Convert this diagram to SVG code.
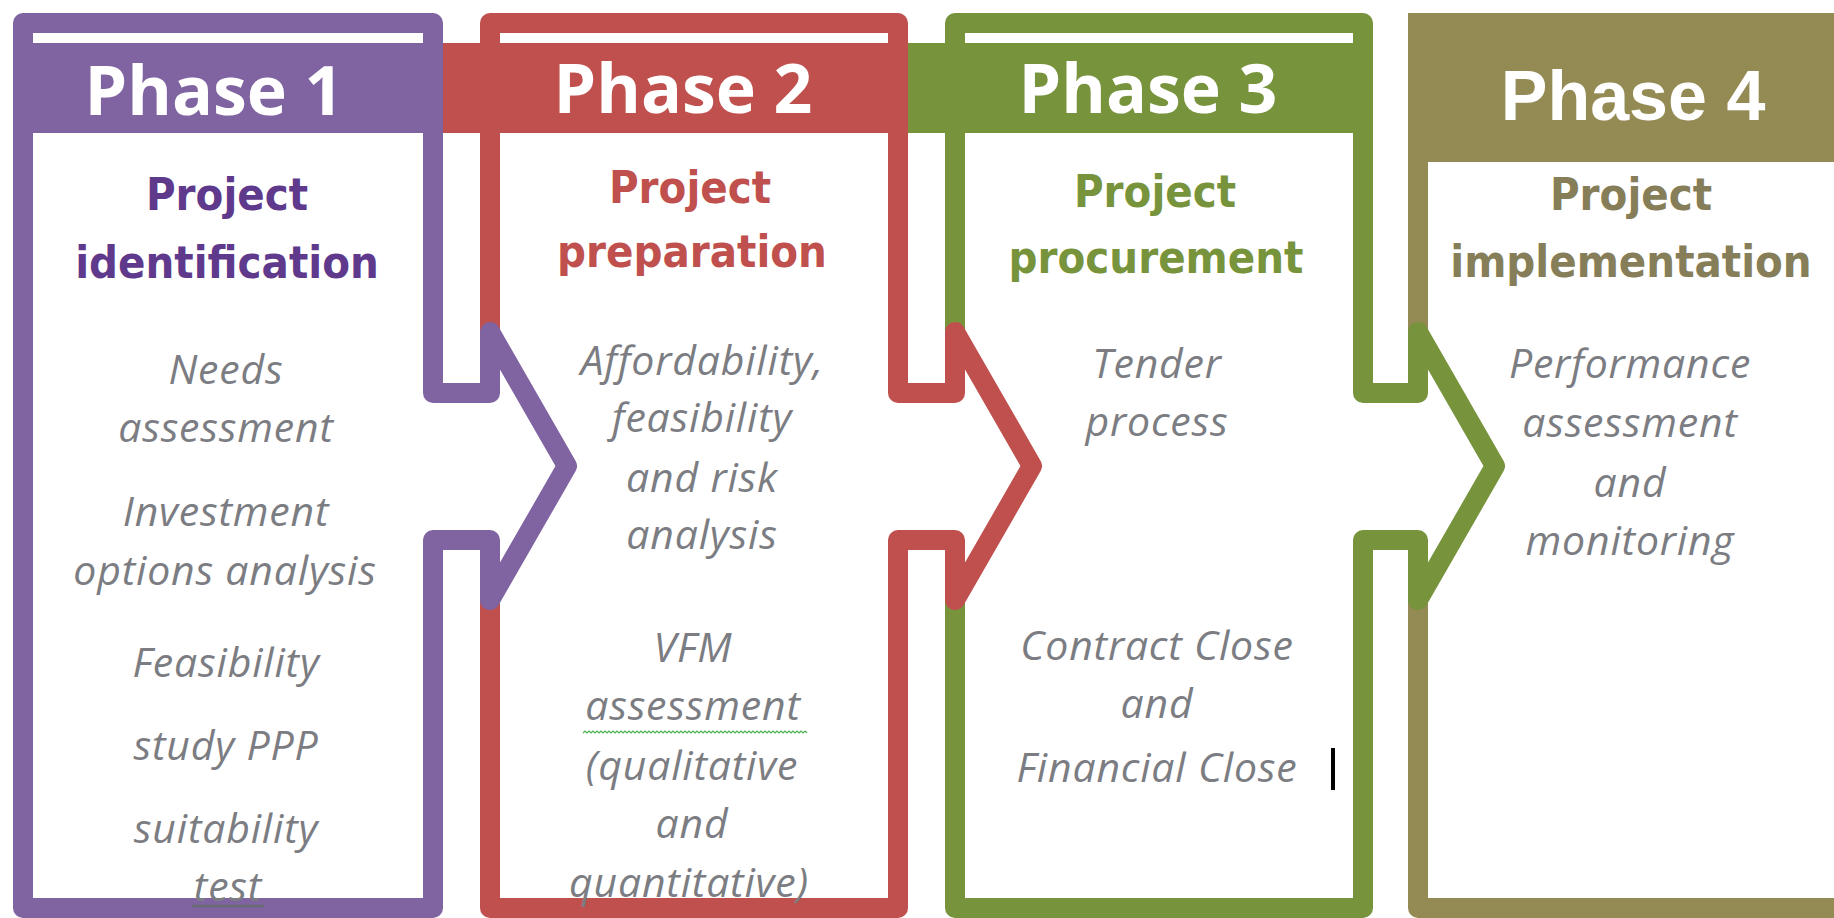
<svg xmlns="http://www.w3.org/2000/svg" width="1834" height="918" viewBox="0 0 1834 918">
<style>
.frame{fill:#ffffff;stroke-width:20;stroke-linejoin:round}
.hd{font-family:'Open Sans','DejaVu Sans',sans-serif;font-weight:700;font-size:68px;fill:#ffffff;text-anchor:middle}
.hd4{font-family:'Liberation Sans',Arial,sans-serif;font-weight:700;font-size:70px;fill:#ffffff;text-anchor:middle}
.ti{font-family:'DejaVu Sans Condensed','DejaVu Sans',sans-serif;font-stretch:condensed;font-weight:700;font-size:45px;text-anchor:middle}
.bd{font-family:'Open Sans','Noto Sans',sans-serif;font-style:italic;font-size:41px;letter-spacing:0.8px;fill:#7b7d82;text-anchor:middle}
.arw{fill:none;stroke-width:20;stroke-linejoin:round}
.hole{fill:#ffffff;stroke:none}
.sq{fill:none;stroke-width:1.2}
.p1{stroke:#8064a2}.p2{stroke:#c0504d}.p3{stroke:#77933c}.p4{stroke:#948a54}
</style>
<rect width="1834" height="918" fill="#ffffff"/>

<g id="phase4">
<path class="frame p4" d="M1418,23 V908 H1860 V23 Z"/>
<rect x="1408" y="13" width="440" height="149" fill="#948a54"/>
<text class="hd4" x="1633" y="120">Phase 4</text>
<text class="ti" fill="#857e58" x="1631" y="210">Project</text>
<text class="ti" fill="#857e58" x="1631" y="277">implementation</text>
<text class="bd" x="1630" y="378">Performance</text>
<text class="bd" x="1630" y="437">assessment</text>
<text class="bd" x="1630" y="497">and</text>
<text class="bd" x="1630" y="555">monitoring</text>
</g>

<g id="phase3">
<path class="frame p3" d="M955,23 H1363 V908 H955 Z"/>
<rect x="908" y="43" width="465" height="90" fill="#77933c"/>
<text class="hd" x="1148" y="113">Phase 3</text>
<text class="ti" fill="#77933c" x="1155" y="207">Project</text>
<text class="ti" fill="#77933c" x="1156" y="273">procurement</text>
<text class="bd" x="1157" y="378">Tender</text>
<text class="bd" x="1157" y="436">process</text>
<text class="bd" x="1157" y="660">Contract Close</text>
<text class="bd" x="1157" y="718">and</text>
<text class="bd" x="1157" y="782">Financial Close</text>
<rect x="1331" y="748" width="4" height="42" fill="#000000"/>
</g>

<g id="phase2">
<path class="frame p2" d="M490,23 H898 V908 H490 Z"/>
<rect x="443" y="43" width="465" height="90" fill="#c0504d"/>
<text class="hd" x="683" y="113">Phase 2</text>
<text class="ti" fill="#c0504d" x="690" y="203">Project</text>
<text class="ti" fill="#c0504d" x="692" y="267">preparation</text>
<text class="bd" x="702" y="375">Affordability,</text>
<text class="bd" x="702" y="432">feasibility</text>
<text class="bd" x="702" y="492">and risk</text>
<text class="bd" x="702" y="549">analysis</text>
<text class="bd" x="693" y="662">VFM</text>
<text class="bd" x="693" y="720">assessment</text>
<path class="sq" stroke="#4caf50" d="M583,733 l2,-2 l2,2 l2,-2 l2,2 l2,-2 l2,2 l2,-2 l2,2 l2,-2 l2,2 l2,-2 l2,2 l2,-2 l2,2 l2,-2 l2,2 l2,-2 l2,2 l2,-2 l2,2 l2,-2 l2,2 l2,-2 l2,2 l2,-2 l2,2 l2,-2 l2,2 l2,-2 l2,2 l2,-2 l2,2 l2,-2 l2,2 l2,-2 l2,2 l2,-2 l2,2 l2,-2 l2,2 l2,-2 l2,2 l2,-2 l2,2 l2,-2 l2,2 l2,-2 l2,2 l2,-2 l2,2 l2,-2 l2,2 l2,-2 l2,2 l2,-2 l2,2 l2,-2 l2,2 l2,-2 l2,2 l2,-2 l2,2 l2,-2 l2,2 l2,-2 l2,2 l2,-2 l2,2 l2,-2 l2,2 l2,-2 l2,2 l2,-2 l2,2 l2,-2 l2,2 l2,-2 l2,2 l2,-2 l2,2 l2,-2 l2,2 l2,-2 l2,2 l2,-2 l2,2 l2,-2 l2,2 l2,-2 l2,2 l2,-2 l2,2 l2,-2 l2,2 l2,-2 l2,2 l2,-2 l2,2 l2,-2 l2,2 l2,-2 l2,2 l2,-2 l2,2 l2,-2 l2,2 l2,-2 l2,2 l2,-2 l2,2 l2,-2 l2,2"/>
<text class="bd" x="692" y="780">(qualitative</text>
<text class="bd" x="692" y="838">and</text>
<text class="bd" x="689" y="897">quantitative)</text>
</g>

<g id="phase1">
<path class="frame p1" d="M23,23 H433 V908 H23 Z"/>
<rect x="13" y="43" width="430" height="90" fill="#8064a2"/>
<text class="hd" x="214" y="115">Phase 1</text>
<text class="ti" fill="#5f3a8c" x="227" y="210">Project</text>
<text class="ti" fill="#5f3a8c" x="227" y="278">identification</text>
<text class="bd" x="226" y="384">Needs</text>
<text class="bd" x="226" y="442">assessment</text>
<text class="bd" x="226" y="526">Investment</text>
<text class="bd" x="225" y="585">options analysis</text>
<text class="bd" x="226" y="677">Feasibility</text>
<text class="bd" x="226" y="760">study PPP</text>
<text class="bd" x="226" y="843">suitability</text>
<text class="bd" x="228" y="901">test</text>
<path class="sq" stroke="#5d6e5d" d="M192,907 l2,-2 l2,2 l2,-2 l2,2 l2,-2 l2,2 l2,-2 l2,2 l2,-2 l2,2 l2,-2 l2,2 l2,-2 l2,2 l2,-2 l2,2 l2,-2 l2,2 l2,-2 l2,2 l2,-2 l2,2 l2,-2 l2,2 l2,-2 l2,2 l2,-2 l2,2 l2,-2 l2,2 l2,-2 l2,2 l2,-2 l2,2 l2,-2 l2,2"/>
</g>

<g id="connectors">
<g id="arrow1">
<path class="hole" d="M422,393 H490 V332 L567,466 L490,600 V540 H422 Z"/>
<path class="arw p1" d="M433,380 V393 H490 V332 L567,466 L490,600 V540 H433 V553"/>
</g>
<g id="arrow2">
<path class="hole" d="M887,393 H955 V332 L1032,466 L955,600 V540 H887 Z"/>
<path class="arw p2" d="M898,380 V393 H955 V332 L1032,466 L955,600 V540 H898 V553"/>
</g>
<g id="arrow3">
<path class="hole" d="M1352,393 H1418 V332 L1495,466 L1418,600 V540 H1352 Z"/>
<path class="arw p3" d="M1363,380 V393 H1418 V332 L1495,466 L1418,600 V540 H1363 V553"/>
</g>
</g>
</svg>
